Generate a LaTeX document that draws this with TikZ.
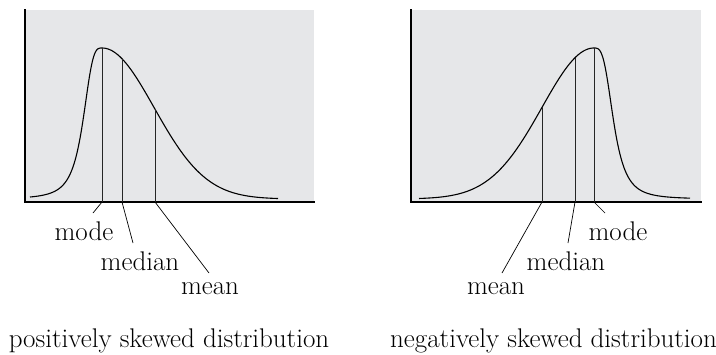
\documentclass[tikz,border=0pt]{standalone}
\begin{document}
\begin{tikzpicture}[x=1pt,y=-1pt,
  panel/.style={fill=panelgray,draw=none},
  axis/.style={line width=1.2pt,line cap=rect},
  curve/.style={line width=1.1pt},
  mark line/.style={line width=0.9pt,draw=black!85},
  lead/.style={line width=0.7pt},
  lbl/.style={font=\fontsize{27}{31}\selectfont,inner sep=0pt},
  ttl/.style={font=\fontsize{27}{31}\selectfont,inner sep=0pt}]
\definecolor{panelgray}{RGB}{230,231,233}
\useasboundingbox (0,0) rectangle (716,354);
% ---------- left panel ----------
\fill[panel] (25,10) rectangle (314,202);
\draw[axis] (25,10) -- (25,202) -- (314,202);
\draw[curve,line join=round] plot[domain=30:101.9,samples=90,smooth] (\x,{199-151/(1+((102-\x)/19.5)^3.3)})
  -- plot[domain=102:278,samples=90,smooth] (\x,{199-151*exp(-0.5*((\x-102)/52)^2)});
\coordinate (Lmodeb) at (102,202);
\coordinate (Lmedb) at (122,202);
\coordinate (Lmeanb) at (155,202);
\draw[mark line] (102,48) -- (Lmodeb);
\draw[mark line] (122,58.7) -- (Lmedb);
\draw[mark line] (155,109) -- (Lmeanb);
\coordinate (Lmodee) at (93,213);
\coordinate (Lmede) at (133,243);
\coordinate (Lmeane) at (209,273);
\draw[lead] (Lmodeb) -- (Lmodee);
\draw[lead] (Lmedb) -- (Lmede);
\draw[lead] (Lmeanb) -- (Lmeane);
\node[lbl] (Lmode) at (84,231) {mode};
\node[lbl] (Lmed) at (140,261) {median};
\node[lbl] (Lmean) at (210,289) {mean};
\node[ttl] (Lttl) at (169,341) {positively skewed distribution};
% ---------- right panel ----------
\fill[panel] (411,10) rectangle (701,202);
\draw[axis] (411,10) -- (411,202) -- (701,202);
\draw[curve,line join=round] plot[domain=419:594,samples=90,smooth] (\x,{199-151*exp(-0.5*((\x-594)/52)^2)})
  -- plot[domain=594.1:690,samples=90,smooth] (\x,{199-151/(1+((\x-594)/20)^3.3)});
\coordinate (Rmodeb) at (594,202);
\coordinate (Rmedb) at (575,202);
\coordinate (Rmeanb) at (542,202);
\draw[mark line] (594,48) -- (Rmodeb);
\draw[mark line] (575,57.8) -- (Rmedb);
\draw[mark line] (542,107.4) -- (Rmeanb);
\coordinate (Rmodee) at (605,213);
\coordinate (Rmede) at (568,243);
\coordinate (Rmeane) at (502,273);
\draw[lead] (Rmodeb) -- (Rmodee);
\draw[lead] (Rmedb) -- (Rmede);
\draw[lead] (Rmeanb) -- (Rmeane);
\node[lbl] (Rmode) at (618,231) {mode};
\node[lbl] (Rmed) at (566,261) {median};
\node[lbl] (Rmean) at (496,289) {mean};
\node[ttl,anchor=west] (Rttl) at (390,341) {negatively skewed distribution};
\end{tikzpicture}
\end{document}
